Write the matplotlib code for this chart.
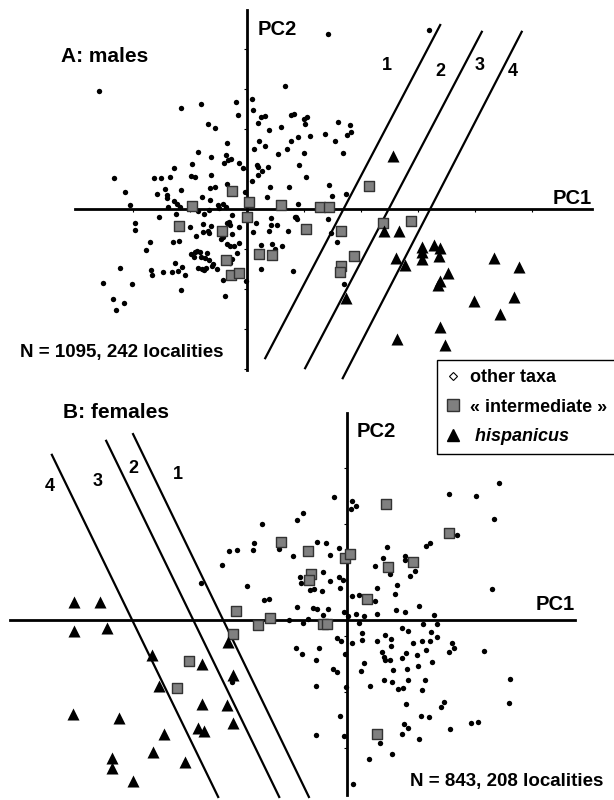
import numpy as np
import matplotlib
matplotlib.use('Agg')
import matplotlib.pyplot as plt
from matplotlib.lines import Line2D

plt.rcParams['font.family'] = ['Liberation Sans', 'DejaVu Sans']
plt.rcParams['font.weight'] = 'bold'

# ---- panel A: males, (PC1, PC2) scores ----
a_other = [
    (-2.60, 2.95), (-1.16, 2.53), (-0.81, 2.63), (-0.19, 2.68), (0.09, 2.75), (-0.16, 2.35), (0.11, 2.48),
    (0.19, 2.15), (-0.68, 2.13), (-0.56, 2.03), (-0.35, 1.65), (0.12, 1.50), (0.21, 1.70), (-0.86, 1.43),
    (-0.37, 1.35), (-0.63, 1.30), (-0.33, 1.23), (-0.28, 1.25), (-0.40, 1.15), (-0.14, 1.15), (-0.96, 1.13),
    (-1.28, 1.03), (-0.07, 1.03), (0.18, 1.10), (0.19, 1.05), (-2.33, 0.78), (-1.63, 0.78), (-1.51, 0.78),
    (-1.35, 0.80), (-0.98, 0.83), (-0.91, 0.80), (-0.63, 0.85), (0.19, 0.85), (0.09, 0.70), (-2.14, 0.43),
    (-1.58, 0.38), (-1.44, 0.50), (-1.40, 0.35), (-1.40, 0.28), (-1.16, 0.48), (-0.65, 0.53), (-0.56, 0.55),
    (-0.35, 0.63), (-0.04, 0.43), (-2.05, 0.10), (-1.39, 0.05), (-1.28, 0.20), (-1.23, 0.13), (-1.18, 0.05),
    (-0.79, 0.30), (-0.65, 0.23), (-0.51, 0.10), (-0.42, 0.13), (-0.37, 0.05), (-0.49, 0.03), (-0.67, -0.03),
    (-0.86, -0.05), (-0.75, -0.13), (-1.25, -0.13), (-1.54, -0.20), (-0.26, -0.15), (-1.96, -0.35),
    (-1.96, -0.53), (-1.00, -0.45), (-0.77, -0.38), (-0.63, -0.43), (-0.77, -0.58), (-0.68, -0.55),
    (-0.67, -0.60), (-0.35, -0.35), (-0.32, -0.33), (-0.30, -0.40), (-0.14, -0.45), (-0.89, -0.68),
    (-0.26, -0.63), (-0.42, -0.70), (-0.46, -0.75), (0.16, -0.35), (0.11, -0.58), (-1.70, -0.83),
    (-1.30, -0.83), (-1.19, -0.80), (-1.77, -1.03), (-0.35, -0.88), (-0.30, -0.93), (-0.23, -0.93),
    (-0.14, -0.85), (-0.98, -1.13), (-0.91, -1.08), (-0.88, -1.05), (-0.82, -1.08), (-0.70, -1.10),
    (-0.18, -1.10), (-0.93, -1.20), (-0.81, -1.20), (-0.74, -1.23), (-0.67, -1.28), (-0.26, -1.25),
    (-1.26, -1.35), (-0.60, -1.38), (-0.61, -1.43), (-0.53, -1.50), (-1.14, -1.45), (-1.21, -1.55),
    (-1.32, -1.58), (-1.47, -1.58), (-0.86, -1.48), (-0.79, -1.50), (-0.75, -1.53), (-0.72, -1.48),
    (-1.68, -1.53), (-1.67, -1.65), (-1.09, -1.65), (-2.23, -1.48), (-0.30, -1.35), (-0.42, -1.78),
    (-2.53, -1.85), (-2.02, -1.88), (-1.16, -2.03), (-0.39, -2.18), (-2.35, -2.25), (-2.16, -2.35),
    (-2.30, -2.53), (-0.02, -1.80), (0.25, -1.50), (0.81, -1.55), (0.25, -0.90), (0.44, -0.88),
    (0.61, -0.93), (0.42, -0.23), (0.42, -0.40), (0.53, -0.40), (0.72, -0.55), (0.84, -0.20), (0.39, -0.55),
    (0.67, 3.08), (0.25, 2.30), (0.32, 2.33), (0.77, 2.35), (0.82, 2.38), (1.00, 2.25), (1.05, 2.30),
    (1.02, 2.13), (0.60, 2.05), (0.39, 1.98), (1.60, 2.18), (1.81, 2.10), (1.82, 1.93), (1.75, 1.85),
    (1.37, 1.88), (0.89, 1.80), (1.11, 1.83), (0.77, 1.70), (0.32, 1.58), (0.70, 1.50), (0.54, 1.38),
    (1.00, 1.40), (1.54, 1.70), (1.68, 1.40), (0.37, 1.05), (0.26, 0.95), (0.91, 1.10), (1.03, 0.80),
    (0.40, 0.55), (0.74, 0.55), (1.44, 0.60), (0.35, 0.30), (1.49, 0.33), (1.74, 0.38), (0.89, 0.13),
    (0.86, -0.20), (0.88, -0.25), (1.42, -0.25), (1.47, -0.60), (1.58, -0.83), (0.49, -1.00),
    (1.42, 4.38), (3.19, 4.48), (1.70, -1.88),
]
a_inter = [
    (-0.26, 0.45), (-0.96, 0.08), (0.04, 0.18), (0.00, -0.20), (-1.19, -0.43), (-0.44, -0.55),
    (-0.37, -1.28), (-0.28, -1.65), (-0.14, -1.60), (0.21, -1.13), (0.44, -1.15), (0.60, 0.10),
    (1.04, -0.50), (1.28, 0.05), (1.44, 0.05), (1.65, -0.55), (2.14, 0.58), (1.88, -1.18),
    (1.65, -1.43), (1.63, -1.58), (2.39, -0.35), (2.88, -0.30),
]
a_hisp = [
    (2.56, 1.33), (2.40, -0.55), (2.67, -0.55), (3.07, -0.95), (3.07, -1.08), (3.07, -1.25),
    (3.28, -0.90), (3.39, -0.98), (3.37, -1.18), (2.61, -1.23), (2.77, -1.40), (3.53, -1.60),
    (3.39, -1.80), (3.35, -1.90), (4.33, -1.23), (4.77, -1.45), (3.98, -2.30), (4.68, -2.20),
    (4.44, -2.63), (1.74, -2.23), (3.39, -2.95), (2.63, -3.25), (3.47, -3.40),
]
# discriminant boundaries (PC1 start/end, PC2 start/end)
a_sep_pc1 = [(3.39, 0.32), (4.12, 1.02), (4.82, 1.68)]
a_sep_pc2 = [(4.60, -3.73), (4.43, -3.98), (4.43, -4.23)]
a_zone_labels = ['1', '2', '3', '4']
a_zone_pos = [(2.46, 3.60), (3.39, 3.43), (4.09, 3.60), (4.67, 3.43)]

# ---- panel B: females ----
b_other = [
    (-0.79, 1.91), (-0.89, 1.79), (-1.52, 1.71), (-1.66, 1.38), (-1.68, 1.25), (-2.11, 1.23), (-1.96, 1.25),
    (-1.21, 1.27), (-0.96, 1.14), (-2.23, 0.98), (-2.61, 0.66), (-1.79, 0.61), (-0.84, 0.77), (-0.82, 0.66),
    (-0.23, 2.20), (0.09, 2.13), (0.16, 2.04), (0.07, 1.98), (-0.54, 1.39), (-0.38, 1.38), (-0.14, 1.29),
    (-0.30, 1.16), (0.71, 1.30), (0.64, 1.11), (0.50, 0.96), (-0.43, 0.86), (-0.14, 0.77), (-0.07, 0.71),
    (-0.30, 0.70), (-0.66, 0.54), (-0.59, 0.55), (-0.45, 0.52), (-0.13, 0.57), (0.54, 0.57), (0.09, 0.43),
    (0.21, 0.45), (0.50, 0.34), (-1.48, 0.36), (-1.39, 0.38), (-0.89, 0.23), (-0.61, 0.21), (-0.54, 0.20),
    (-0.34, 0.20), (-0.05, 0.14), (-0.43, 0.09), (0.02, 0.07), (0.16, 0.11), (0.30, 0.07), (0.54, 0.11),
    (-1.04, 0.00), (-0.79, -0.05), (-0.70, 0.02), (0.21, -0.05), (1.82, 2.25), (2.30, 2.21), (2.71, 2.45),
    (2.63, 1.80), (1.96, 1.52), (1.41, 1.32), (1.48, 1.38), (1.04, 1.14), (1.04, 1.07), (1.21, 0.88),
    (1.13, 0.79), (0.77, 0.82), (0.89, 0.63), (2.59, 0.55), (0.86, 0.46), (0.88, 0.18), (1.04, 0.14),
    (1.29, 0.25), (1.55, 0.09), (1.61, -0.07), (1.36, -0.07), (0.98, -0.14), (1.09, -0.20), (1.50, -0.21),
    (-0.18, -0.32), (-0.11, -0.38), (0.09, -0.41), (0.27, -0.23), (0.27, -0.36), (0.54, -0.38),
    (0.68, -0.27), (0.79, -0.34), (0.79, -0.46), (1.18, -0.41), (1.34, -0.38), (1.48, -0.38),
    (1.61, -0.30), (1.41, -0.54), (1.88, -0.41), (1.91, -0.50), (1.82, -0.57), (2.45, -0.55),
    (-0.50, -0.50), (-0.80, -0.61), (-0.91, -0.50), (-0.55, -0.71), (-0.04, -0.61), (0.30, -0.77),
    (0.63, -0.57), (0.66, -0.66), (1.05, -0.59), (0.98, -0.68), (1.25, -0.63), (0.68, -0.71),
    (0.77, -0.71), (1.52, -0.75), (-0.25, -0.88), (-0.18, -0.93), (0.25, -0.91), (0.82, -0.89),
    (1.07, -0.88), (1.27, -0.82), (2.91, -1.05), (0.66, -1.07), (0.80, -1.11), (1.09, -1.07),
    (1.39, -1.07), (0.41, -1.18), (-0.55, -1.18), (-0.02, -1.20), (0.91, -1.23), (1.00, -1.21),
    (1.34, -1.25), (2.89, -1.48), (1.05, -1.50), (1.73, -1.46), (1.68, -1.55), (-0.13, -1.71),
    (1.32, -1.71), (1.46, -1.73), (2.21, -1.84), (2.34, -1.82), (1.84, -1.95), (1.02, -1.86),
    (1.09, -1.93), (0.98, -2.04), (-0.55, -2.05), (-0.05, -2.07), (1.29, -2.13), (0.59, -2.20),
    (0.80, -2.39), (0.39, -2.48), (0.11, -2.93), (-2.05, -1.11),
]
b_inter = [
    (-1.18, 1.39), (-0.70, 1.23), (-0.04, 1.11), (0.05, 1.18), (0.70, 2.07), (0.73, 0.95),
    (-0.64, 0.82), (-0.68, 0.71), (0.36, 0.38), (1.82, 1.55), (1.18, 1.04), (-1.98, 0.16),
    (-1.59, -0.09), (-1.38, 0.04), (-0.43, -0.07), (-0.36, -0.07), (0.54, -2.04), (-2.04, -0.25),
    (-2.82, -0.73), (-3.04, -1.21),
]
b_hisp = [
    (-4.88, 0.32), (-4.41, 0.32), (-4.88, -0.20), (-4.29, -0.14), (-2.13, -0.39), (-3.48, -0.63),
    (-2.59, -0.79), (-2.04, -0.98), (-3.36, -1.18), (-2.59, -1.50), (-2.14, -1.52), (-2.04, -1.84),
    (-4.89, -1.68), (-4.07, -1.75), (-2.66, -1.93), (-2.55, -1.98), (-3.27, -2.04), (-3.46, -2.36),
    (-4.20, -2.46), (-4.20, -2.64), (-2.89, -2.54), (-3.82, -2.88),
]
b_sep_pc1 = [(-5.27, -2.30), (-4.30, -1.21), (-3.82, -0.68)]
b_sep_pc2 = [(2.95, -3.16), (3.20, -3.16), (3.32, -3.16)]
b_zone_labels = ['4', '3', '2', '1']
b_zone_pos = [(-5.30, 2.38), (-4.45, 2.48), (-3.82, 2.71), (-3.02, 2.59)]

fig = plt.figure(figsize=(6.14, 8), dpi=100)
axA = fig.add_axes([0, 0.5, 1, 0.5])
axB = fig.add_axes([0, 0, 1, 0.5])
axA.set_xlim(-4.333, 6.439)
axA.set_ylim(-4.775, 5.225)
axB.set_xlim(-6.196, 4.768)
axB.set_ylim(-3.214, 3.929)


def draw_panel(ax, other, inter, hisp, sep1, sep2, zl, zp, pc1_ext, pc2_ext, xt, yt):
    # PC axes through the origin
    ax.plot(pc1_ext, [0, 0], color='black', lw=2.0, zorder=2)
    ax.plot([0, 0], pc2_ext, color='black', lw=2.0, zorder=2)
    if xt:
        ax.plot(xt, np.zeros(len(xt)), ls='none', marker=3, ms=2.5, mew=0.8, color='black')
    if yt:
        ax.plot(np.zeros(len(yt)), yt, ls='none', marker=0, ms=2.5, mew=0.8, color='black')
    o = np.array(other)
    ax.scatter(o[:, 0], o[:, 1], s=15, color='black', lw=0, zorder=3)
    i = np.array(inter)
    ax.scatter(i[:, 0], i[:, 1], s=60, marker='s', color='#808080', edgecolor='#333333', lw=1.0, zorder=4)
    h = np.array(hisp)
    ax.scatter(h[:, 0], h[:, 1], s=75, marker='^', color='black', lw=0, zorder=4)
    for xs, ys in zip(sep1, sep2):
        ax.plot(xs, ys, color='black', lw=1.6, zorder=3)
    for lab, (x, y) in zip(zl, zp):
        ax.text(x, y, lab, fontsize=13, fontweight='bold', ha='center', va='center')
    ax.axis('off')


draw_panel(axA, a_other, a_inter, a_hisp, a_sep_pc1, a_sep_pc2, a_zone_labels, a_zone_pos,
           [-3.02, 6.05], [-4.03, 4.98], [-2, -1, 1, 2, 3, 4, 5], [-4, -3, -2, -1, 1, 2, 3, 4])
draw_panel(axB, b_other, b_inter, b_hisp, b_sep_pc1, b_sep_pc2, b_zone_labels, b_zone_pos,
           [-6.02, 4.07], [-3.13, 3.70], [], [2.71, 1.71, 0.71, -0.29, -1.29, -2.29])

axA.text(0.18, 4.48, 'PC2', fontsize=14.5, fontweight='bold', ha='left', va='center')
axA.text(6.05, 0.25, 'PC1', fontsize=14.5, fontweight='bold', ha='right', va='center')
axA.text(-3.26, 3.8, 'A: males', fontsize=15, fontweight='bold', ha='left', va='center')
axA.text(-3.98, -3.6, 'N = 1095, 242 localities', fontsize=13.5, fontweight='bold', ha='left', va='center')

axB.text(0.18, 3.36, 'PC2', fontsize=14.5, fontweight='bold', ha='left', va='center')
axB.text(4.07, 0.27, 'PC1', fontsize=14.5, fontweight='bold', ha='right', va='center')
axB.text(-5.07, 3.71, 'B: females', fontsize=15, fontweight='bold', ha='left', va='center')
axB.text(4.57, -2.88, 'N = 843, 208 localities', fontsize=13.5, fontweight='bold', ha='right', va='center')

handles = [
    Line2D([], [], ls='none', marker='D', ms=4, mfc='white', mec='black', mew=0.8),
    Line2D([], [], ls='none', marker='s', ms=8, mfc='#808080', mec='#333333', mew=1.0),
    Line2D([], [], ls='none', marker='^', ms=8, color='black'),
]
labels = ['other taxa', '\u00ab intermediate \u00bb', ' hispanicus']
leg = fig.legend(handles, labels, loc='upper left', bbox_to_anchor=(437 / 614, 1 - 360 / 800),
                 frameon=True, fancybox=False, edgecolor='black', framealpha=1,
                 prop={'size': 13, 'weight': 'bold'}, borderpad=0.5, labelspacing=0.7,
                 handlelength=0.8, handletextpad=0.5, borderaxespad=0)
leg.get_frame().set_linewidth(1.0)
leg.get_texts()[2].set_style('italic')

fig.savefig('out.png', dpi=100)
